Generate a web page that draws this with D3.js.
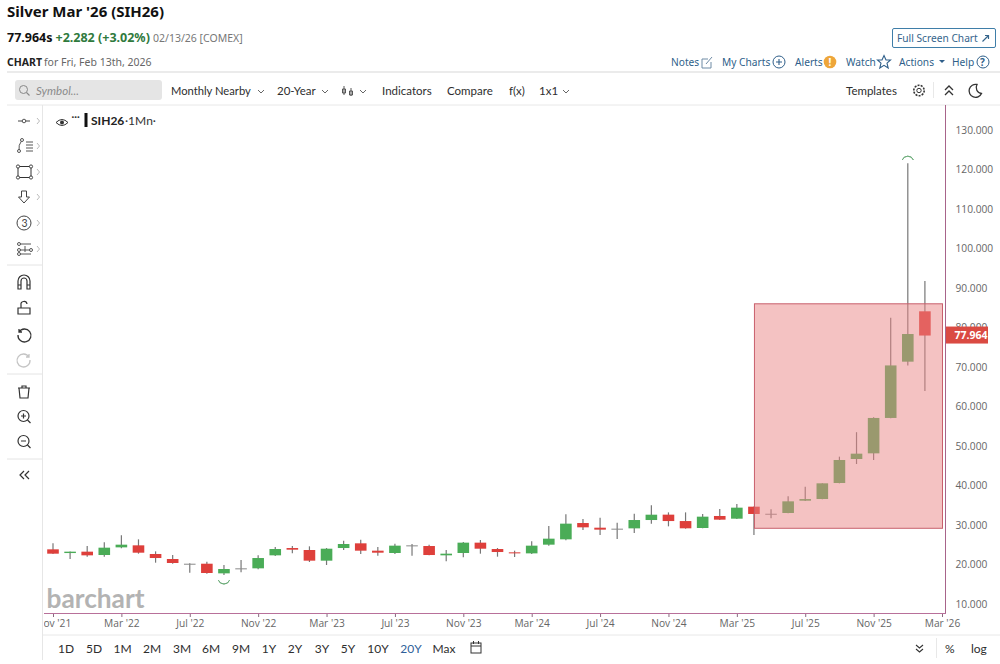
<!DOCTYPE html>
<html>
<head>
<meta charset="utf-8">
<script src="https://cdn.jsdelivr.net/npm/d3@7"></script>
<style>
  html, body { margin: 0; padding: 0; background: #fff; }
  svg { display: block; }
  text { font-family: Lato, sans-serif; }
  .tick text { font-family: "Open Sans", sans-serif; font-size: 10.2px; fill: #666; }
</style>
</head>
<body>
<svg id="chart" width="1000" height="664"></svg>
<script>
// monthly candles, Nov '21 to Feb '26
let months = ["Nov '21","Dec '21","Jan '22","Feb '22","Mar '22","Apr '22","May '22","Jun '22","Jul '22","Aug '22","Sep '22","Oct '22",
  "Nov '22","Dec '22","Jan '23","Feb '23","Mar '23","Apr '23","May '23","Jun '23","Jul '23","Aug '23","Sep '23","Oct '23",
  "Nov '23","Dec '23","Jan '24","Feb '24","Mar '24","Apr '24","May '24","Jun '24","Jul '24","Aug '24","Sep '24","Oct '24",
  "Nov '24","Dec '24","Jan '25","Feb '25","Mar '25","Apr '25","May '25","Jun '25","Jul '25","Aug '25","Sep '25","Oct '25",
  "Nov '25","Dec '25","Jan '26","Feb '26","Mar '26"];
let opens = [23.84,22.9,23.25,22.4,24.34,24.85,22.66,21.39,20.2,20.2,17.76,19.03,
  19.03,22.32,24.17,23.67,20.97,24.17,25.36,23.5,22.91,24.85,24.68,22.32,
  22.91,25.53,23.92,23.08,22.82,25.02,26.37,30.5,29.32,29.07,29.15,31.26,
  32.62,31,29.24,32.28,31.6,34.64,32.8,33.04,36.16,36.58,40.63,46.71,
  48.14,57.1,71.35,84.1];
let highs = [25.36,23.3,24.68,25.61,27.38,26.37,23.33,22.4,20.3,20.71,19.87,21.14,
  22.32,24.43,24.68,24.6,24.17,26.03,26.28,24.43,25.27,25.19,25,23.67,
  25.7,26.2,24.17,23.5,25.86,29.74,32.7,31.52,31.85,30.59,32.87,34.98,
  33.2,33.2,32.79,34.05,35.32,34.7,33.97,37.26,39.7,40.6,47.3,53.5,
  57.3,82.5,121.6,91.8];
let lows = [22.65,21.39,21.98,21.98,24.09,22.74,20.46,20.2,17.93,17.68,17.34,18.01,
  18.77,22.15,22.82,20.63,19.87,23.67,22.66,22.23,22.66,22.23,22.32,20.8,
  21.81,22.74,21.98,21.9,22.66,24.77,26.12,28.73,27.47,26.45,27.97,30.34,
  29.66,29.07,29.16,31.27,31.52,27.47,31.69,32.95,36.08,36.5,40.55,45.44,
  46.46,57,70.4,63.9];
let closes = [22.74,23.25,22.32,24.26,25.02,22.99,21.64,20.38,20.2,17.85,18.86,19.03,
  21.64,23.92,23.75,20.97,24,25.19,23.5,22.99,24.77,24.85,22.4,22.74,
  25.53,24,23.16,22.82,24.77,26.54,30.34,29.41,28.82,29.07,31.26,32.61,
  31,29.16,32.11,31.35,34.39,32.79,32.85,35.99,36.56,40.55,46.46,48.06,
  57.1,70.4,78.35,77.964];

let xTickLabels = ["Nov '21","Mar '22","Jul '22","Nov '22","Mar '23","Jul '23","Nov '23","Mar '24","Jul '24","Nov '24","Mar '25","Jul '25","Nov '25","Mar '26"];
let yTickValues = [10,20,30,40,50,60,70,80,90,100,110,120,130];
let boxStart = "Apr '25", boxEnd = "Mar '26", boxTop = 86, boxBottom = 29.17;
let lastPrice = 77.964;
let rangeButtons = ["1D","5D","1M","2M","3M","6M","9M","1Y","2Y","3Y","5Y","10Y","20Y","Max"];
let rangeButtonX = [66,94,122.5,152,182,211,241,269,295,322,348,378,411,444];

let svg = d3.select('#chart');
let xScale = d3.scalePoint().domain(months).range([53,942]);
let yScale = d3.scaleLinear().domain([10,130]).range([604,130]);

function label(x, y, str, size, color, weight, extra) {
  let t = svg.append('text').attr('x',x).attr('y',y).text(str)
    .attr('font-size',size).attr('fill',color).attr('font-weight',weight||400);
  if (extra) extra(t);
  return t;
}
function rule(x1,y1,x2,y2,color,w) {
  return svg.append('line').attr('x1',x1).attr('y1',y1).attr('x2',x2).attr('y2',y2)
    .attr('stroke',color).attr('stroke-width',w||1);
}
function icon(x,y,d,color,w) {
  return svg.append('path').attr('transform','translate('+x+','+y+')').attr('d',d)
    .attr('fill','none').attr('stroke',color||'#333').attr('stroke-width',w||1.2);
}
function dots(pts,color,r) {
  pts.forEach(function(p) {
    svg.append('circle').attr('cx',p[0]).attr('cy',p[1]).attr('r',r||1.5)
      .attr('fill','#fff').attr('stroke',color||'#444').attr('stroke-width',0.9);
  });
}
function noto(t) { t.style('font-family','"Noto Sans", sans-serif'); }
function italic(t) { t.attr('font-style','italic'); }

// header
label(7,17,"Silver Mar '26 (SIH26)",15,'#111',700,noto);
label(7,42,"77.964s",12.5,'#111',700,noto);
label(55.5,42,"+2.282 (+3.02%)",12.5,'#2f7a3d',700,noto);
label(153,42,"02/13/26 [COMEX]",10.5,'#777',400,noto);
label(7,66,"CHART",10.5,'#222',700,noto);
label(44,66,"for Fri, Feb 13th, 2026",10.5,'#666',400,noto);

svg.append('rect').attr('x',892.5).attr('y',28.5).attr('width',103).attr('height',19).attr('rx',1.5)
  .attr('fill','#fff').attr('stroke','#3f7ea8');
label(897,42,"Full Screen Chart",10.2,'#35658c',400,noto);
icon(982.5,41.5,'M0,0 L6,-6 M2.5,-6 H6 V-2.5','#35658c',1.2);

const linkCol = '#2f5f8a';
label(671,66,"Notes",10.2,linkCol,400,noto);
icon(702,57,'M9,5 V11 H0 V2 H6 M4,7 L10,0','#6f8ba5',1);
label(722,66,"My Charts",10.2,linkCol,400,noto);
svg.append('circle').attr('cx',779).attr('cy',62).attr('r',6).attr('fill','none').attr('stroke',linkCol);
icon(779,62,'M-3,0 H3 M0,-3 V3',linkCol,1.1);
label(795,66,"Alerts",10.2,linkCol,400,noto);
svg.append('circle').attr('cx',830).attr('cy',62).attr('r',6.3).attr('fill','#eea63a');
label(828.5,66,"!",10,'#fff',700,noto);
label(846,66,"Watch",10.2,linkCol,400,noto);
icon(884,62,'M0,-6.5 L2,-2 L6.5,-2 L3,1.2 L4.2,6 L0,3.4 L-4.2,6 L-3,1.2 L-6.5,-2 L-2,-2 Z',linkCol,1.1);
label(899,66,"Actions",10.2,linkCol,400,noto);
svg.append('path').attr('d','M939,60 h6 l-3,3 z').attr('fill',linkCol);
label(952,66,"Help",10.2,linkCol,400,noto);
svg.append('circle').attr('cx',983).attr('cy',62).attr('r',6).attr('fill','none').attr('stroke',linkCol);
label(980,66,"?",10,linkCol,700,noto);

rule(7,72,1000,72,'#e4e4e4',1.5);
rule(7,105,1000,105,'#e8e8e8',1);

// toolbar
svg.append('rect').attr('x',15).attr('y',80).attr('width',147).attr('height',20).attr('rx',3).attr('fill','#e5e5e5');
svg.append('circle').attr('cx',23.5).attr('cy',89.5).attr('r',4).attr('fill','none').attr('stroke','#888');
icon(26.5,92.5,'M0,0 L3,3','#888',1.1);
label(36,94.5,"Symbol...",11.5,'#8b8b8b',400,italic);
let toolbarLabels = [["Monthly Nearby",171,11.2],["20-Year",277,11.5],["Indicators",382,11.5],["Compare",447,11.5],["f(x)",509,11.5],["1x1",539,11.5],["Templates",846,11.5]];
toolbarLabels.forEach(function(d) { label(d[1],94.5,d[0],d[2],'#2e2e2e'); });
[261,325,363,566].forEach(function(x) { icon(x-3,90,'M0,0 L3,3 L6,0','#555',0.9); });
icon(344,87,'M0,-1 V8 M-1.5,2 H1.5 V6 H-1.5 Z M7,1 V9 M5.5,4 H8.5 V8 H5.5 Z','#444',0.9);
svg.append('circle').attr('cx',919).attr('cy',90.5).attr('r',2.2).attr('fill','none').attr('stroke','#333');
svg.append('circle').attr('cx',919).attr('cy',90.5).attr('r',5.2).attr('fill','none').attr('stroke','#333').attr('stroke-width',1.6).attr('stroke-dasharray','2 1.2');
rule(933.5,82,933.5,98,'#e8e8e8');
icon(945,90,'M0,0 L4,-4 L8,0 M0,5 L4,1 L8,5','#333',1.3);
icon(975,90.5,'M2,-6 A6.5,6.5 0 1 0 6.5,3 A6,6 0 0 1 2,-6 Z','#333',1.3);

// left tool rail
rule(42.5,105,42.5,660,'#e6e6e6');
[265,374,459].forEach(function(y) { rule(7,y,42,y,'#e4e4e4'); });
[121,146,172,197,223,249].forEach(function(y) { icon(37,y-3,'M0,0 L2.5,3 L0,6','#aaa',0.8); });
icon(24,121,'M-6,0 H6','#444',1);
dots([[24,121]],'#444',1.8);
icon(19,146,'M3,-6 Q-1,-1 0,5 M7,-4 H14 M7,-1 H14 M7,2 H14 M7,5 H14','#444',0.9);
dots([[22,-6+146],[19,5+146]],'#444',1.5);
svg.append('rect').attr('x',18).attr('y',166.5).attr('width',13).attr('height',11).attr('fill','none').attr('stroke','#333');
dots([[18,166.5],[31,166.5],[18,177.5],[31,177.5]],'#333',1.6);
icon(24,197,'M-2.5,-6 H2.5 V0 H5.5 L0,6 L-5.5,0 H-2.5 Z','#444',1);
svg.append('circle').attr('cx',24).attr('cy',223).attr('r',7).attr('fill','none').attr('stroke','#444');
label(21.5,227,"3",10.5,'#444');
icon(17,249,'M2,-5 H14 M2,1 H14 M2,5 H14 M8,-3 V3','#444',0.9);
dots([[19,244],[19,250],[19,254],[31,250]],'#444',1.5);
icon(24,282,'M-6,7 V-1 A6,6 0 0 1 6,-1 V7 H3 V-1 A3,3 0 0 0 -3,-1 V7 Z M-6,3 H-3 M3,3 H6','#333',1.2);
icon(24,308,'M-6,0 H6 V6 H-6 Z M-3,0 V-3 A3,3 0 0 1 3,-4','#333',1.2);
icon(24,333,'M-5,-4 V-1 H-2 M-5,-1 A6.5,6.5 0 1 1 -6,2','#333',1.3);
icon(24,358,'M5,-4 V-1 H2 M5,-1 A6.5,6.5 0 1 0 6,2','#c4c4c4',1.3);
icon(24,392,'M-6,-4 H6 M-2,-4 V-6 H2 V-4 M-5,-4 L-4,6 H4 L5,-4','#333',1.2);
svg.append('circle').attr('cx',23.5).attr('cy',416).attr('r',5.5).attr('fill','none').attr('stroke','#333').attr('stroke-width',1.2);
icon(23.5,416,'M-2.5,0 H2.5 M0,-2.5 V2.5 M4,4 L7,7','#333',1.2);
svg.append('circle').attr('cx',23.5).attr('cy',441).attr('r',5.5).attr('fill','none').attr('stroke','#333').attr('stroke-width',1.2);
icon(23.5,441,'M-2.5,0 H2.5 M4,4 L7,7','#333',1.2);
icon(24,475,'M0,-4 L-4,0 L0,4 M5,-4 L1,0 L5,4','#333',1.2);

// legend
icon(62,122.5,'M-6,0 Q0,-6 6,0 Q0,6 -6,0 Z','#333',1);
svg.append('circle').attr('cx',62).attr('cy',122.5).attr('r',2).attr('fill','#333');
label(71.5,120,"···",10,'#333',700);
svg.append('rect').attr('x',84.5).attr('y',113).attr('width',3).attr('height',14).attr('fill','#111');
label(91,125,"SIH26",12,'#222',700);
label(125,125,"·1Mn·",12,'#333');

// watermark sits under the candles
label(46.5,607.5,"barchart",27,'#b3b3b3',700,function(t) {
  t.attr('textLength',98).attr('lengthAdjust','spacingAndGlyphs');
});

// candles
let candles = opens.map(function(o,i) {
  return {month: months[i], o: o, h: highs[i], l: lows[i], c: closes[i]};
});
function candleColor(d) {
  if (Math.abs(d.o-d.c) < 0.08) return '#8a8a8a';
  return d.c >= d.o ? '#4aac57' : '#de3f3b';
}
let candleG = svg.append('g');
candleG.selectAll('line').data(candles).join('line')
  .attr('x1',function(d){return xScale(d.month)})
  .attr('x2',function(d){return xScale(d.month)})
  .attr('y1',function(d){return yScale(d.h)})
  .attr('y2',function(d){return yScale(d.l)})
  .attr('stroke','#777').attr('stroke-width',1.2);
candleG.selectAll('rect').data(candles).join('rect')
  .attr('x',function(d){return xScale(d.month)-5.8})
  .attr('width',11.6)
  .attr('y',function(d){return yScale(Math.max(d.o,d.c))})
  .attr('height',function(d){return Math.max(1,Math.abs(yScale(d.o)-yScale(d.c)))})
  .attr('fill',candleColor);

// high and low markers
let arcShape = d3.arc().innerRadius(6).outerRadius(6);
let hiCandle = candles[d3.greatest(d3.range(candles.length),function(i){return highs[i]})];
let loCandle = candles[d3.least(d3.range(candles.length),function(i){return lows[i]})];
svg.append('path')
  .attr('transform','translate('+xScale(hiCandle.month)+','+(yScale(hiCandle.h)-1)+')')
  .attr('d',arcShape({startAngle:-1.2,endAngle:1.2}))
  .attr('fill','none').attr('stroke','#6fae7c');
svg.append('path')
  .attr('transform','translate('+xScale(loCandle.month)+','+(yScale(loCandle.l)+3)+')')
  .attr('d',arcShape({startAngle:Math.PI-1.2,endAngle:Math.PI+1.2}))
  .attr('fill','none').attr('stroke','#6fae7c');

// drawn rectangle, on top of the candles
svg.append('rect')
  .attr('x',xScale(boxStart)+0.5)
  .attr('y',yScale(boxTop))
  .attr('width',xScale(boxEnd)-xScale(boxStart))
  .attr('height',yScale(boxBottom)-yScale(boxTop))
  .attr('fill','rgb(233,133,133)').attr('fill-opacity',0.5)
  .attr('stroke','#c8606c').attr('stroke-width',1);

// axes
svg.append('defs').append('clipPath').attr('id','axisClip')
  .append('rect').attr('x',44).attr('y',-3).attr('width',956).attr('height',24);
let xAxis = d3.axisBottom(xScale).tickValues(xTickLabels).tickSize(4).tickPadding(3);
let xG = svg.append('g').attr('transform','translate(0,613)').attr('clip-path','url(#axisClip)').call(xAxis);
xG.select('.domain').remove();
xG.selectAll('.tick line').attr('stroke','#8a6a80');

let yAxis = d3.axisRight(yScale).tickValues(yTickValues).tickSize(0).tickPadding(10)
  .tickFormat(function(d){return d3.format('.3f')(d)});
let yG = svg.append('g').attr('transform','translate(945.5,0)').call(yAxis);
yG.select('.domain').remove();

rule(945.5,105,945.5,613.5,'#a8648a');
rule(44,613.5,946,613.5,'#b8709a');

// last price tag
svg.append('rect').attr('x',946).attr('y',yScale(lastPrice)-9).attr('width',42).attr('height',17).attr('fill','#da4a42');
label(954.5,yScale(lastPrice)+3.6,d3.format('.3f')(lastPrice),10.5,'#fff',700,noto);

// footer
rule(43,635,1000,635,'#e8e8e8');
rangeButtons.forEach(function(b,i) {
  label(rangeButtonX[i],653,b,12,b==='20Y'?'#2f5f9a':'#2e2e2e',400,function(t){t.attr('text-anchor','middle')});
});
svg.append('rect').attr('x',471).attr('y',643).attr('width',10).attr('height',10).attr('fill','none').attr('stroke','#333');
icon(471,646,'M0,0 H10 M2.5,-5 V-2 M7.5,-5 V-2','#333',1);
icon(916,645,'M0,0 L3.5,3 L7,0 M0,4 L3.5,7 L7,4','#333',1.1);
rule(936.5,638,936.5,658,'#e8e8e8');
label(945,653,"%",12,'#2e2e2e');
label(971,653,"log",12,'#2e2e2e');
</script>
</body>
</html>
